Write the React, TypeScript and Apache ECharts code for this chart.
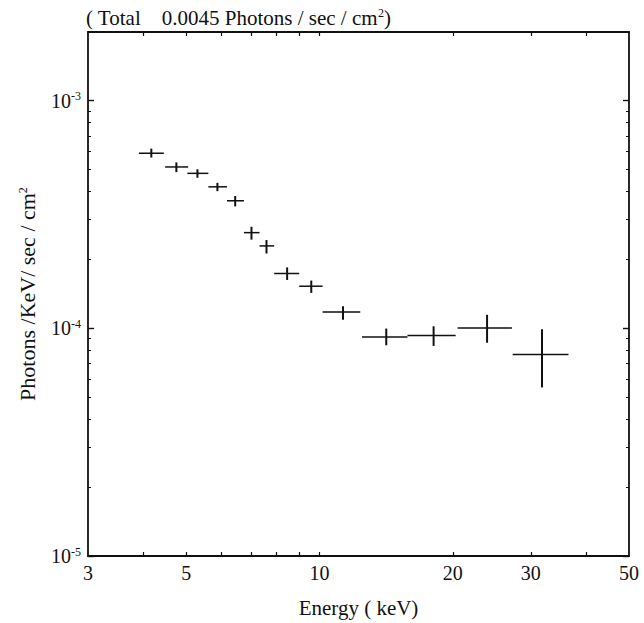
import React, { useEffect, useRef } from "react";
import * as echarts from "echarts";

const energy = [4.17, 4.75, 5.3, 5.88, 6.45, 7.02, 7.59, 8.45, 9.58, 11.3, 14.15, 18.1, 23.9, 31.8];
const energyLow = [3.91, 4.48, 5.03, 5.61, 6.18, 6.75, 7.32, 7.9, 9.0, 10.16, 12.47, 15.8, 20.5, 27.3];
const energyHigh = [4.45, 5.05, 5.61, 6.18, 6.75, 7.32, 7.9, 9.0, 10.16, 12.36, 15.8, 20.3, 27.2, 36.5];
const flux = [5.87e-4, 5.11e-4, 4.79e-4, 4.18e-4, 3.63e-4, 2.63e-4, 2.3e-4, 1.74e-4, 1.53e-4, 1.18e-4, 0.915e-4, 0.93e-4, 1.003e-4, 0.767e-4];
const fluxLow = [5.62e-4, 4.85e-4, 4.58e-4, 4.0e-4, 3.43e-4, 2.45e-4, 2.13e-4, 1.63e-4, 1.43e-4, 1.09e-4, 0.842e-4, 0.837e-4, 0.864e-4, 0.55e-4];
const fluxHigh = [6.15e-4, 5.35e-4, 4.99e-4, 4.35e-4, 3.81e-4, 2.79e-4, 2.44e-4, 1.85e-4, 1.62e-4, 1.25e-4, 0.997e-4, 1.02e-4, 1.146e-4, 0.99e-4];

const xLabelValues = [3, 5, 10, 20, 30, 50];
const xTickValues = [4, 5, 6, 7, 8, 9, 10, 20, 30, 40];
const yLabelValues = [1e-5, 1e-4, 1e-3];
const yMinorTickValues = [
  2e-5, 3e-5, 4e-5, 5e-5, 6e-5, 7e-5, 8e-5, 9e-5,
  2e-4, 3e-4, 4e-4, 5e-4, 6e-4, 7e-4, 8e-4, 9e-4,
  2e-3,
];

const FONT = "Liberation Serif";

export default function App() {
  const ref = useRef<HTMLDivElement>(null);
  useEffect(() => {
    if (!ref.current) return;
    const chart = echarts.init(ref.current, undefined, { renderer: "svg" });
    const data = energy.map((e, i) => [e, flux[i], energyLow[i], energyHigh[i], fluxLow[i], fluxHigh[i]]);
    const axisLine = { show: true, lineStyle: { color: "#111", width: 1.8 } };
    const option: any = {
      animation: false,
      backgroundColor: "#fff",
      grid: { left: 88, right: 15, top: 32, bottom: 58, containLabel: false },
      xAxis: [
        {
          type: "log", logBase: 10, min: 3, max: 50, position: "bottom",
          axisLine,
          axisTick: { show: true, inside: true, length: 4, customValues: xTickValues, lineStyle: { color: "#111", width: 1.2 } },
          axisLabel: {
            show: true, customValues: xLabelValues, margin: 7, color: "#111",
            fontFamily: FONT, fontSize: 20, formatter: (v: number) => String(Math.round(v)),
          },
          splitLine: { show: false }, minorTick: { show: false },
          name: "Energy ( keV)", nameLocation: "middle", nameGap: 41,
          nameTextStyle: { fontFamily: FONT, fontSize: 21, color: "#111" },
        },
        {
          type: "log", logBase: 10, min: 3, max: 50, position: "top",
          axisLine,
          axisTick: { show: true, inside: true, length: 4, customValues: xTickValues, lineStyle: { color: "#111", width: 1.2 } },
          axisLabel: { show: false }, splitLine: { show: false },
        },
      ],
      yAxis: [
        {
          type: "log", logBase: 10, min: 1e-5, max: 2e-3, position: "left",
          axisLine,
          axisTick: { show: true, inside: true, length: 6, customValues: yLabelValues, lineStyle: { color: "#111", width: 1.4 } },
          axisLabel: {
            show: true, customValues: yLabelValues, margin: 7, color: "#111",
            fontFamily: FONT, fontSize: 20,
            formatter: (v: number) => `10{s|${Math.round(Math.log10(v)) < 0 ? "-" : ""}${Math.abs(Math.round(Math.log10(v)))}}`,
            rich: { s: { fontFamily: FONT, fontSize: 12, color: "#111", verticalAlign: "bottom", padding: [0, 0, 9, 0] } },
          },
          splitLine: { show: false },
          name: "Photons /KeV/ sec / cm{s|2}", nameLocation: "middle", nameGap: 50, nameRotate: 90,
          nameTextStyle: {
            fontFamily: FONT, fontSize: 22, color: "#111",
            rich: { s: { fontFamily: FONT, fontSize: 12, color: "#111", verticalAlign: "bottom", padding: [0, 0, 9, 0] } },
          },
        },
        {
          type: "log", logBase: 10, min: 1e-5, max: 2e-3, position: "left",
          axisLine: { show: false },
          axisTick: { show: true, inside: true, length: 3, customValues: yMinorTickValues, lineStyle: { color: "#111", width: 1 } },
          axisLabel: { show: false }, splitLine: { show: false },
        },
        {
          type: "log", logBase: 10, min: 1e-5, max: 2e-3, position: "right",
          axisLine,
          axisTick: { show: true, inside: true, length: 6, customValues: yLabelValues, lineStyle: { color: "#111", width: 1.4 } },
          axisLabel: { show: false }, splitLine: { show: false },
        },
        {
          type: "log", logBase: 10, min: 1e-5, max: 2e-3, position: "right",
          axisLine: { show: false },
          axisTick: { show: true, inside: true, length: 3, customValues: yMinorTickValues, lineStyle: { color: "#111", width: 1 } },
          axisLabel: { show: false }, splitLine: { show: false },
        },
      ],
      graphic: [
        {
          type: "text", left: 86, top: 7,
          style: {
            text: "( Total    0.0045 Photons / sec / cm{s|2})",
            fontFamily: FONT, fontSize: 21, fill: "#111",
            rich: { s: { fontFamily: FONT, fontSize: 12, fill: "#111", verticalAlign: "bottom", padding: [0, 0, 9, 0] } },
          },
        },
      ],
      series: [
        {
          type: "custom",
          xAxisIndex: 0, yAxisIndex: 0,
          data,
          encode: { x: [0, 2, 3], y: [1, 4, 5] },
          renderItem: (params: any, api: any) => {
            const x = api.value(0), y = api.value(1);
            const l = api.coord([api.value(2), y]);
            const r = api.coord([api.value(3), y]);
            const b = api.coord([x, api.value(4)]);
            const t = api.coord([x, api.value(5)]);
            return {
              type: "group",
              children: [
                { type: "line", shape: { x1: l[0], y1: l[1], x2: r[0], y2: r[1] }, style: { stroke: "#111", lineWidth: 1.5 } },
                { type: "line", shape: { x1: t[0], y1: t[1], x2: b[0], y2: b[1] }, style: { stroke: "#111", lineWidth: 2 } },
              ],
            };
          },
        },
      ],
    };
    chart.setOption(option);
    return () => chart.dispose();
  }, []);
  return <div ref={ref} style={{ position: "fixed", left: 0, top: 0, width: 644, height: 623, background: "#fff" }} />;
}
